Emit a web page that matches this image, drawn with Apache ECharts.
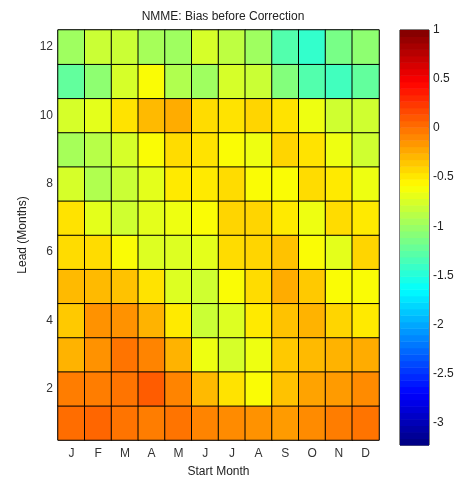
<!DOCTYPE html>
<html>
<head>
    <meta charset="UTF-8">
    <title>NMME: Bias before Correction</title>
    <script src="https://cdn.jsdelivr.net/npm/echarts@6/dist/echarts.min.js"></script>
    <style>
        html, body { margin: 0; padding: 0; background: #fff; }
        #main { width: 465px; height: 483px; }
    </style>
</head>
<body>
    <div id="main"></div>
    <script>
        // 月份 / 提前期
        var months = ['J', 'F', 'M', 'A', 'M', 'J', 'J', 'A', 'S', 'O', 'N', 'D'];
        var leads = ['1', '2', '3', '4', '5', '6', '7', '8', '9', '10', '11', '12'];

        // bias per lead (lead 1 .. 12), columns J..D
        var lead1  = [0.04, 0.07, 0.01, -0.03, 0.01, -0.06, -0.09, -0.12, -0.16, -0.09, -0.03, 0.01];
        var lead2  = [-0.03, -0.03, 0.01, 0.11, -0.06, -0.29, -0.46, -0.59, -0.32, -0.19, -0.16, -0.09];
        var lead3  = [-0.26, -0.12, 0.01, -0.06, -0.26, -0.65, -0.75, -0.65, -0.35, -0.29, -0.26, -0.23];
        var lead4  = [-0.35, -0.12, -0.12, -0.26, -0.49, -0.80, -0.72, -0.49, -0.32, -0.26, -0.40, -0.49];
        var lead5  = [-0.29, -0.29, -0.32, -0.46, -0.72, -0.78, -0.59, -0.43, -0.23, -0.35, -0.59, -0.59];
        var lead6  = [-0.43, -0.43, -0.59, -0.72, -0.72, -0.69, -0.43, -0.40, -0.32, -0.59, -0.69, -0.40];
        var lead7  = [-0.46, -0.69, -0.78, -0.69, -0.65, -0.59, -0.40, -0.40, -0.49, -0.65, -0.43, -0.49];
        var lead8  = [-0.75, -0.91, -0.80, -0.69, -0.49, -0.49, -0.43, -0.59, -0.59, -0.43, -0.49, -0.65];
        var lead9  = [-0.95, -0.88, -0.75, -0.59, -0.43, -0.46, -0.59, -0.65, -0.40, -0.46, -0.65, -0.78];
        var lead10 = [-0.75, -0.69, -0.46, -0.29, -0.23, -0.43, -0.46, -0.40, -0.46, -0.65, -0.78, -0.78];
        var lead11 = [-1.24, -1.05, -0.75, -0.59, -0.91, -0.98, -0.75, -0.80, -1.10, -1.31, -1.38, -1.24];
        var lead12 = [-0.98, -0.80, -0.80, -0.95, -0.98, -0.75, -0.85, -0.98, -1.31, -1.44, -1.15, -1.05];
        var biasRows = [lead1, lead2, lead3, lead4, lead5, lead6, lead7, lead8, lead9, lead10, lead11, lead12];

        // colorbar
        var cbMin = -3.23, cbMax = 1;
        var cbTicks = [1, 0.5, 0, -0.5, -1, -1.5, -2, -2.5, -3];

        // jet 颜色表 (64)
        function jet(t) {
            var r = Math.min(Math.max(Math.min(4 * t - 1.5, -4 * t + 4.5), 0), 1);
            var g = Math.min(Math.max(Math.min(4 * t - 0.5, -4 * t + 3.5), 0), 1);
            var b = Math.min(Math.max(Math.min(4 * t + 0.5, -4 * t + 2.5), 0), 1);
            return 'rgb(' + Math.round(r * 255) + ',' + Math.round(g * 255) + ',' + Math.round(b * 255) + ')';
        }
        var jetColors = [];
        for (var i = 0; i < 64; i++) jetColors.push(jet((i + 0.5) / 64));

        var heatData = [];
        biasRows.forEach(function (row, y) {
            row.forEach(function (v, x) { heatData.push([x, y, v]); });
        });
        var cbBins = [];
        var step = (cbMax - cbMin) / 64;
        for (var k = 0; k < 64; k++) cbBins.push([cbMin + k * step, cbMin + (k + 1) * step, k]);

        var font = 'Liberation Sans, Arial, sans-serif';
        var myChart = echarts.init(document.getElementById('main'));
        var option = {
            backgroundColor: '#fff',
            animation: false,
            title: {
                text: 'NMME: Bias before Correction',
                left: 218, top: 6, textAlign: 'center',
                textStyle: { fontFamily: font, fontSize: 12, fontWeight: 'normal', color: '#222' }
            },
            grid: [
                { left: 58, top: 30, width: 321, height: 413, show: true, borderColor: '#666', borderWidth: 1 },
                { left: 400, top: 30, width: 29, height: 415, show: true, borderColor: '#000', borderWidth: 1 }
            ],
            visualMap: {
                show: false, seriesIndex: 0, min: cbMin, max: cbMax, dimension: 2,
                inRange: { color: jetColors }
            },
            xAxis: [
                {
                    type: 'category', gridIndex: 0, data: months,
                    name: 'Start Month', nameLocation: 'middle', nameGap: 26,
                    nameTextStyle: { fontFamily: font, fontSize: 12, color: '#222' },
                    axisLine: { show: false }, axisTick: { show: false }, splitLine: { show: false },
                    axisLabel: { fontFamily: font, fontSize: 12, color: '#333', margin: 8 }
                },
                {
                    type: 'category', gridIndex: 1, data: ['c'],
                    axisLine: { show: false }, axisTick: { show: false }, axisLabel: { show: false }
                }
            ],
            yAxis: [
                {
                    type: 'category', gridIndex: 0, data: leads,
                    name: 'Lead (Months)', nameLocation: 'middle', nameGap: 28, nameRotate: 90,
                    nameTextStyle: { fontFamily: font, fontSize: 12, color: '#222' },
                    axisLine: { show: false }, axisTick: { show: false }, splitLine: { show: false },
                    axisLabel: {
                        fontFamily: font, fontSize: 12, color: '#333', margin: 5,
                        formatter: function (v) { return (+v) % 2 === 0 ? v : ''; }
                    }
                },
                {
                    type: 'value', gridIndex: 1, min: cbMin, max: cbMax, position: 'right',
                    axisLine: { show: false }, splitLine: { show: false },
                    axisTick: { inside: true, length: 4, customValues: cbTicks, lineStyle: { color: '#000' } },
                    axisLabel: { customValues: cbTicks, fontFamily: font, fontSize: 12, color: '#222', margin: 4 }
                },
                {
                    type: 'value', gridIndex: 1, min: cbMin, max: cbMax, position: 'left',
                    axisLine: { show: false }, splitLine: { show: false },
                    axisTick: { inside: true, length: 4, customValues: cbTicks, lineStyle: { color: '#000' } },
                    axisLabel: { show: false }
                }
            ],
            series: [
                {
                    type: 'heatmap', xAxisIndex: 0, yAxisIndex: 0, data: heatData,
                    itemStyle: { borderColor: '#000', borderWidth: 1 },
                    emphasis: { disabled: true }
                },
                {
                    type: 'custom', xAxisIndex: 1, yAxisIndex: 1, data: cbBins, silent: true, z: 1,
                    renderItem: function (params, api) {
                        var top = api.coord([0, api.value(1)]);
                        var bot = api.coord([0, api.value(0)]);
                        var w = api.size([1, 0])[0];
                        return {
                            type: 'rect',
                            shape: { x: top[0] - w / 2, y: top[1], width: w, height: bot[1] - top[1] + 0.5 },
                            style: { fill: jetColors[api.value(2)] }
                        };
                    }
                }
            ]
        };
        myChart.setOption(option);
    </script>
</body>
</html>
